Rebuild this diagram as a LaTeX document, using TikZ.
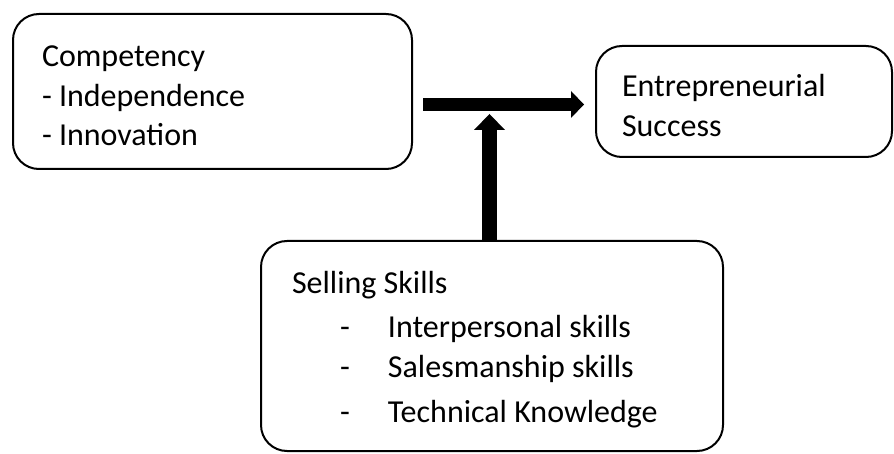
\documentclass[tikz,border=0pt]{standalone}
\usepackage{fontspec}
\setmainfont{Carlito}
\usetikzlibrary{arrows.meta,positioning}

\begin{document}
\begin{tikzpicture}[x=1pt,y=-1pt]
\tikzstyle{box}=[draw,line width=2pt,rounded corners=26pt,align=flush left,inner ysep=0pt,text height=30pt,font=\fontsize{32}{39.5}\selectfont]
\tikzstyle{fat}=[line width=13pt]
\useasboundingbox (0,0) rectangle (894,454);
% the three boxes
\node[box,minimum height=155pt,inner xsep=29pt,text width=341pt] (comp) at (212.5,91.5) {Competency\\- Independence\\- Innovation};
\node[box,minimum height=111pt,inner xsep=26pt,text width=244pt] (succ) at (744,101.5) {Entrepreneurial\\Success};
\node[box,minimum height=210pt,inner xsep=31pt,text width=400pt] (sell) at (492,346) {Selling Skills\\[5pt]
  \hspace*{48pt}\makebox[48pt][l]{-}Interpersonal skills\\
  \hspace*{48pt}\makebox[48pt][l]{-}Salesmanship skills\\[6pt]
  \hspace*{48pt}\makebox[48pt][l]{-}Technical Knowledge};
\coordinate (mid) at (489.5,104.5);
% block arrows
\draw[fat,-{Triangle[length=13pt,width=27pt,line width=0pt]}] ([xshift=10pt]comp.east |- mid) -- ([xshift=-11pt]succ.west |- mid);
\draw[line width=15pt,-{Triangle[length=16pt,width=31pt,line width=0pt]}] (sell.north -| mid) -- ([yshift=-9.5pt]mid);
\end{tikzpicture}
\end{document}
